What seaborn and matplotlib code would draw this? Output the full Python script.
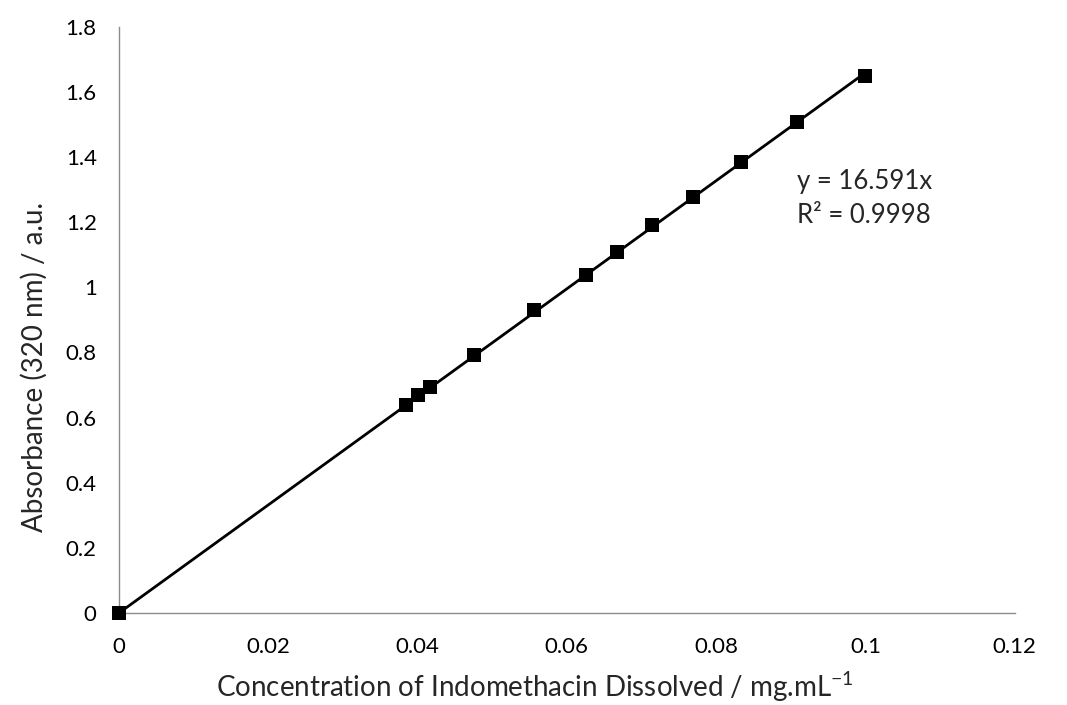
import matplotlib
matplotlib.use("Agg")
import matplotlib.pyplot as plt
import numpy as np
import pandas as pd
import seaborn as sns

# Calibration data: concentration (mg/mL) vs absorbance at 320 nm
concentration = [0.0, 0.0385, 0.0400, 0.0417, 0.0476, 0.0556, 0.0625,
                 0.0667, 0.0714, 0.0769, 0.0833, 0.0909, 0.1000]
absorbance = [0.0, 0.640, 0.668, 0.695, 0.793, 0.930, 1.037,
              1.110, 1.190, 1.277, 1.385, 1.508, 1.648]

# Linear fit through the origin
slope = 16.591
r_squared = 0.9998
fit_x = [0.0, 0.1]

x_ticks = [0, 0.02, 0.04, 0.06, 0.08, 0.1, 0.12]
x_tick_labels = ["0", "0.02", "0.04", "0.06", "0.08", "0.1", "0.12"]
y_ticks = [0, 0.2, 0.4, 0.6, 0.8, 1.0, 1.2, 1.4, 1.6, 1.8]
y_tick_labels = ["0", "0.2", "0.4", "0.6", "0.8", "1", "1.2", "1.4", "1.6", "1.8"]

sns.set_theme(style="white")
plt.rcParams["font.family"] = ["Lato", "DejaVu Sans"]
plt.rcParams["mathtext.default"] = "regular"

df = pd.DataFrame({"conc": concentration, "abs": absorbance})
fit_df = pd.DataFrame({"conc": fit_x, "abs": [slope * v for v in fit_x]})

fig = plt.figure(figsize=(10.67, 7.05), dpi=100)
ax = fig.add_axes([0.1115, 0.1305, 0.8395, 0.8315])

sns.lineplot(data=fit_df, x="conc", y="abs", ax=ax, color="black",
             linewidth=2.0, zorder=2)
sns.scatterplot(data=df, x="conc", y="abs", ax=ax, marker="s", s=100,
                color="black", edgecolor="black", linewidth=0, zorder=3,
                clip_on=False)

ax.set_xlim(0, 0.12)
ax.set_ylim(0, 1.8)
ax.set_xticks(x_ticks)
ax.set_xticklabels(x_tick_labels)
ax.set_yticks(y_ticks)
ax.set_yticklabels(y_tick_labels)

for side in ("top", "right"):
    ax.spines[side].set_visible(False)
for side in ("left", "bottom"):
    ax.spines[side].set_color("#8c8c8c")
    ax.spines[side].set_linewidth(1.0)

ax.tick_params(axis="both", which="major", direction="out", length=7,
               width=1.0, color="#8c8c8c", labelsize=16, labelcolor="black")
ax.tick_params(axis="x", pad=10)
ax.tick_params(axis="y", pad=9)

ax.set_xlabel("Concentration of Indomethacin Dissolved / mg.mL$^{-1}$",
              fontsize=20)
ax.set_ylabel("Absorbance (320 nm) / a.u.", fontsize=20)
ax.xaxis.set_label_coords(0.464, -0.097)
ax.yaxis.set_label_coords(-0.079, 0.42)

ax.text(0.0908, 1.324, f"y = {slope}x", fontsize=18.5, va="center", ha="left")
ax.text(0.0908, 1.222, f"R² = {r_squared}", fontsize=18.5, va="center", ha="left")

fig.savefig("out.png", dpi=100)
